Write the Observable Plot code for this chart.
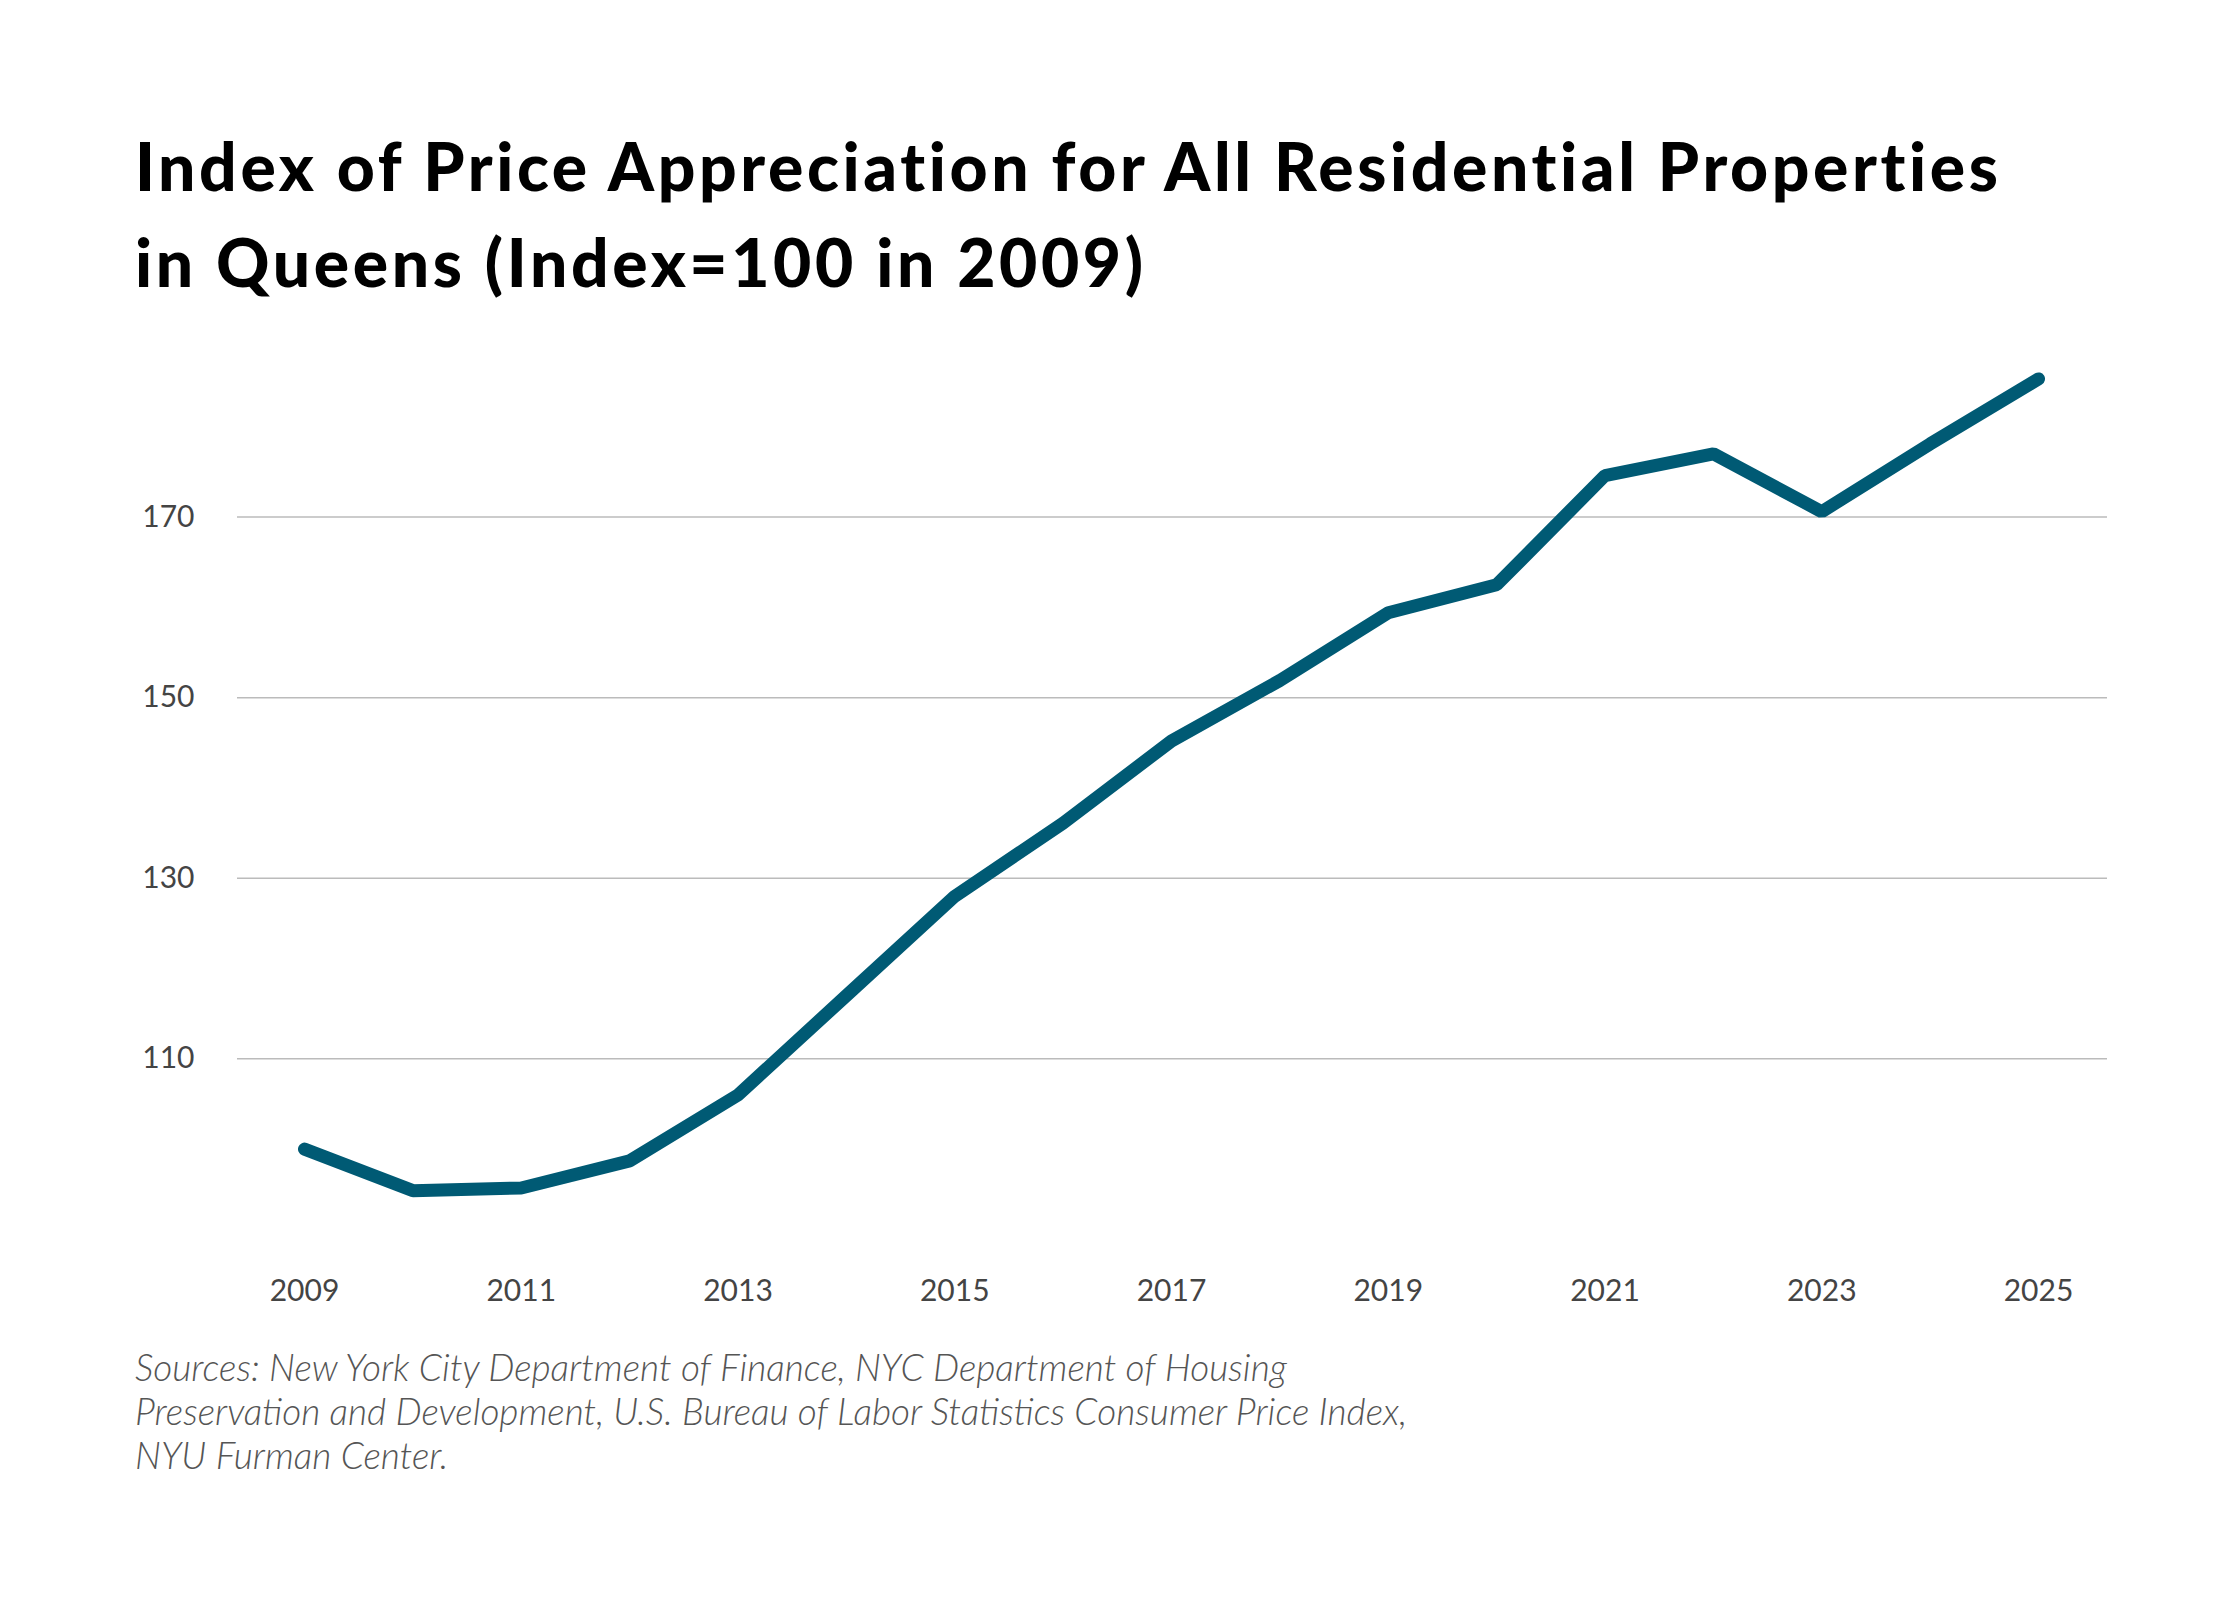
<!DOCTYPE html>
<html><head><meta charset="utf-8">
<script src="https://cdn.jsdelivr.net/npm/d3@7"></script>
<script src="https://cdn.jsdelivr.net/npm/@observablehq/plot@0.6"></script>
<style>
body{margin:0;background:#fff;width:2240px;height:1600px;overflow:hidden;font-family:Lato,sans-serif}
#title{position:absolute;left:135px;top:118px;font-size:66px;font-weight:900;line-height:96px;color:#000;width:2100px;letter-spacing:3.6px}
#chart{position:absolute;left:0;top:320px}
#src{position:absolute;left:135px;top:1345px;font-size:37px;font-style:italic;font-weight:300;color:#555;line-height:44px;width:1330px}
</style></head><body>
<div id="title">Index of Price Appreciation for All Residential Properties<br>in Queens (Index=100 in 2009)</div>
<div id="chart"></div>
<div id="src">Sources: New York City Department of Finance, NYC Department of Housing Preservation and Development, U.S. Bureau of Labor Statistics Consumer Price Index, NYU Furman Center.</div>
<script>
const years=[2009,2010,2011,2012,2013,2014,2015,2016,2017,2018,2019,2020,2021,2022,2023,2024,2025];
const values=[100,95.4,95.7,98.7,106,117,128,136.1,145.2,151.9,159.4,162.5,174.6,177,170.6,178.1,185.3];
const yTicks=[110,130,150,170];
const xTicks=[2009,2011,2013,2015,2017,2019,2021,2023,2025];
const data=years.map((y,i)=>({year:y,value:values[i]}));
const chart=Plot.plot({
  width:2240,height:1010,marginTop:25,marginBottom:73,marginLeft:237,marginRight:133,
  style:{fontFamily:"Lato,sans-serif",fontSize:"30px",color:"#444"},
  x:{domain:[2009,2025],insetLeft:67,insetRight:69,label:null},
  y:{domain:[88,189],label:null},
  marks:[
    Plot.gridY(yTicks,{stroke:"#bbb",strokeOpacity:1,strokeWidth:1.5}),
    Plot.axisY(yTicks,{tickSize:0,tickPadding:43,fontSize:30,tickFormat:d=>String(d)}),
    Plot.axisX(xTicks,{tickSize:0,tickPadding:22,fontSize:30,tickFormat:d=>String(d)}),
    Plot.line(data,{x:"year",y:"value",stroke:"#005a74",strokeWidth:13,strokeLinejoin:"miter"})
  ]
});
document.getElementById("chart").appendChild(chart);
</script></body></html>
